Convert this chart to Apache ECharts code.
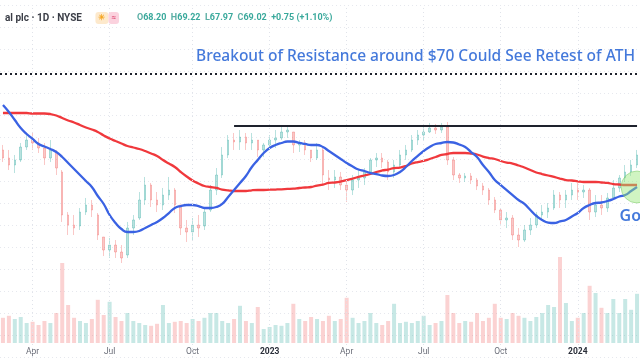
<!DOCTYPE html>
<html><head><meta charset="utf-8">
<script src="https://cdn.jsdelivr.net/npm/echarts@6/dist/echarts.min.js"></script>
<style>html,body{margin:0;padding:0;background:#fff}#c{width:640px;height:360px}</style>
</head><body><div id="c"></div>
<script>
// Weekly buckets starting at this Monday
const firstWeek = '2022-02-21';
// [open, close, low, high] per week
const candles = [
[65.64,64.18,63.45,66.55],[64.18,62.91,62.00,65.64],[62.91,63.82,61.45,64.73],[63.82,66.18,63.45,66.91],[66.18,67.45,65.64,68.36],
[67.45,66.91,65.64,68.73],[66.91,66.00,65.09,67.82],[66.00,64.18,62.91,66.91],[64.18,65.64,63.45,67.45],[65.27,62.36,61.09,65.64],
[61.64,53.82,52.55,62.00],[53.82,52.00,50.18,54.36],[52.00,51.45,50.18,53.82],[51.82,54.36,51.09,55.09],[54.36,55.64,53.82,56.91],
[55.64,54.73,53.45,56.55],[53.82,50.18,49.27,54.18],[49.82,47.45,46.36,49.82],[47.45,48.36,46.00,49.64],[48.36,47.09,46.00,49.27],
[47.09,46.00,45.09,48.36],[46.55,51.45,46.00,52.55],[51.45,52.91,50.18,53.82],[53.27,56.55,52.91,58.00],[56.55,59.27,55.64,60.73],
[59.27,56.55,55.27,59.64],[56.55,55.64,54.36,58.00],[55.64,57.45,54.73,58.73],[57.45,58.36,56.55,60.73],[58.36,55.64,54.18,58.73],
[55.64,51.45,50.18,55.64],[51.45,50.73,48.91,52.91],[50.73,52.00,49.27,53.27],[52.00,51.45,49.82,53.82],[51.82,54.36,51.09,55.27],
[54.73,58.36,54.36,59.27],[58.36,61.09,57.45,62.36],[61.09,64.73,60.55,66.18],[64.73,67.45,64.18,68.36],[67.45,67.09,65.64,68.73],
[67.09,68.00,65.64,69.27],[68.00,66.91,65.64,68.73],[66.91,67.45,65.64,68.73],[67.45,65.64,64.36,67.45],[65.64,66.55,64.36,66.91],
[66.55,67.45,65.64,68.36],[67.45,67.82,66.00,69.27],[67.82,68.91,67.45,69.82],[68.91,69.27,67.82,70.18],[68.91,66.55,65.09,68.91],
[66.55,66.91,65.27,67.45],[66.91,65.64,64.73,67.45],[65.64,64.18,63.45,65.64],[64.18,65.64,63.82,66.91],[65.64,61.09,59.27,66.00],
[60.55,60.18,58.36,62.00],[60.18,60.73,58.73,62.00],[60.73,59.27,58.36,61.64],[59.27,58.36,56.18,60.18],[58.36,60.18,57.45,61.09],
[60.18,60.55,58.73,62.00],[60.55,61.64,59.27,62.36],[61.64,63.82,61.09,64.18],[63.82,64.18,62.55,65.09],[64.18,63.45,62.36,65.09],
[63.45,61.64,60.18,63.82],[61.64,62.91,60.55,63.82],[62.91,64.73,62.36,65.64],[64.73,65.64,63.82,66.55],[65.64,67.45,65.27,68.36],
[67.45,68.36,66.55,69.27],[68.36,68.91,67.45,69.82],[68.91,69.64,68.73,70.55],[69.64,69.27,68.55,70.36],[69.27,69.82,68.73,70.55],
[69.82,63.82,62.91,70.73],[63.82,61.09,60.18,64.36],[61.09,60.55,59.64,61.45],[60.55,60.91,59.82,61.45],[60.91,60.18,59.45,61.45],
[60.18,59.09,58.36,60.55],[59.09,58.36,57.45,59.64],[58.36,56.55,55.64,58.73],[56.55,54.73,54.18,57.09],[54.73,52.91,52.00,55.09],
[52.91,53.27,51.45,54.36],[53.27,50.18,49.27,53.82],[50.18,49.27,48.00,51.45],[49.27,51.09,48.91,52.00],[51.09,52.00,50.18,53.27],
[52.00,53.82,51.45,54.36],[53.82,54.36,52.91,55.64],[54.36,55.09,53.27,56.00],[55.09,57.45,54.73,58.36],[57.45,56.55,55.09,58.00],
[56.55,57.45,55.09,58.36],[57.45,58.36,56.55,59.64],[58.36,58.00,56.55,59.64],[58.00,58.36,56.91,59.27],[58.36,54.36,52.91,58.73],
[54.36,55.64,53.45,57.45],[55.64,55.09,53.82,57.45],[55.09,56.91,54.36,57.82],[56.91,58.73,56.55,60.18],[58.73,60.55,58.00,61.09],
[60.55,61.64,59.82,62.91],[61.64,62.91,60.91,63.82],[62.91,64.73,62.36,65.64]
];
const ma50 = [73.82,72.55,71.09,69.64,68.55,67.64,66.73,66.27,65.82,65.27,
64.36,63.27,62.18,61.09,60.00,58.91,57.27,55.82,53.82,52.36,
51.27,50.73,50.73,50.91,51.45,52.00,52.55,53.27,54.18,55.09,
55.45,55.64,55.64,55.45,55.09,55.09,55.27,55.82,57.09,58.36,
59.64,60.91,62.55,63.82,65.09,66.00,66.55,66.91,67.18,67.18,
66.91,66.73,66.55,66.55,66.18,65.45,64.73,64.00,63.27,62.64,
62.09,61.82,61.45,61.27,61.00,60.91,61.09,61.64,62.55,63.64,
64.55,65.45,66.18,66.73,66.91,67.09,67.00,66.64,66.18,65.27,
64.36,62.91,61.64,60.18,59.27,58.36,57.45,56.55,55.82,54.73,
53.64,52.91,52.45,52.36,52.64,52.91,53.55,54.18,55.09,55.64,
56.00,56.09,56.36,56.73,57.18,57.45,58.18,58.91];
const ma200 = [72.36,72.36,72.36,72.36,72.36,72.27,72.27,72.27,72.18,71.91,
71.45,71.00,70.64,70.18,69.73,69.36,68.91,68.27,67.73,67.27,
66.82,66.36,66.09,65.82,65.45,65.00,64.55,63.82,63.18,62.55,
61.64,60.82,60.09,59.55,59.09,58.91,58.73,58.45,58.31,58.18,
58.18,58.18,58.31,58.36,58.36,58.42,58.45,58.49,58.55,58.60,
58.73,58.82,58.91,59.18,59.36,59.64,59.73,59.91,60.18,60.45,
60.73,61.00,61.27,61.64,61.91,62.09,62.36,62.45,62.73,63.18,
63.45,63.64,64.00,64.36,64.73,64.91,65.09,65.09,65.09,65.00,
64.82,64.45,64.18,64.00,63.64,63.36,63.18,62.82,62.45,62.00,
61.55,61.27,61.00,60.73,60.45,60.18,60.09,59.95,59.82,59.82,
59.82,59.73,59.64,59.45,59.36,59.27,59.27,59.27];
// volume, millions of shares
const volume = [6.3,6.8,6.0,6.5,5.0,5.3,4.5,5.5,5.0,7.5,
20.0,9.5,6.3,5.5,5.0,6.0,10.8,7.0,10.3,6.5,
5.5,7.5,5.5,5.0,4.5,4.3,4.8,9.5,5.0,5.3,
5.5,5.0,6.0,5.5,6.3,7.5,7.5,5.5,5.0,6.0,
9.3,5.5,5.0,9.0,3.5,4.0,4.5,4.3,5.0,9.8,
6.0,5.5,6.5,6.0,5.5,6.8,5.5,6.0,11.3,6.3,
5.0,5.5,7.5,5.0,4.5,5.5,9.8,5.0,5.3,5.0,
5.5,6.8,4.5,5.0,5.5,12.0,7.5,5.0,5.5,5.3,
7.5,5.5,6.3,9.8,6.3,6.0,7.5,6.8,6.3,5.5,
6.5,7.5,9.5,9.0,21.5,10.0,5.5,6.3,7.5,14.3,
12.5,8.8,7.5,11.0,7.5,11.0,8.3,12.3];
const tickLabels = {'2022-03-28':'Apr','2022-06-27':'Jul','2022-10-03':'Oct','2023-01-02':'2023',
  '2023-04-03':'Apr','2023-07-03':'Jul','2023-10-02':'Oct','2024-01-01':'2024'};
const resistanceFrom = '2022-11-21';
const resistanceLevel = 70;
const athLevel = 79.45;
const goldenCrossWeek = '2024-03-11';
const goldenCrossPrice = 58.91;
const headerName = 'al plc · 1D · NYSE';
const headerQuote = {O:'68.20', H:'69.22', L:'67.97', C:'69.02', chg:'+0.75 (+1.10%)'};

const t0 = new Date(firstWeek + 'T00:00:00Z').getTime();
const weeks = candles.map((_, i) => new Date(t0 + i * 7 * 86400000).toISOString().slice(0, 10));

const UP = '#26a69a', DOWN = '#ef5350', BLUE = '#4479db';
const volData = volume.map((v, i) => ({
  value: v,
  itemStyle: {color: candles[i][1] >= candles[i][0] ? 'rgba(38,166,154,0.26)' : 'rgba(239,83,80,0.26)'}
}));

const chart = echarts.init(document.getElementById('c'), null, {renderer: 'canvas'});
chart.setOption({
  animation: false,
  backgroundColor: '#ffffff',
  textStyle: {fontFamily: 'Roboto'},
  title: {
    left: 0, top: 4,
    text: '{n|' + headerName + '}   {s|☀}{w|≈}    {k|O}{v|' + headerQuote.O + '} {k|H}{v|' + headerQuote.H +
      '} {k|L}{v|' + headerQuote.L + '} {k|C}{v|' + headerQuote.C + '} {v|' + headerQuote.chg + '}',
    textStyle: {
      rich: {
        n: {fontSize: 10, color: '#3b3e47', fontFamily: 'Roboto'},
        s: {fontSize: 8, color: '#f5a623', backgroundColor: '#fde9cc', padding: [2, 3], borderRadius: 3},
        w: {fontSize: 8, color: '#e35d82', backgroundColor: '#fbd2de', padding: [2, 3], borderRadius: 3},
        k: {fontSize: 9, color: '#5aaea4', fontFamily: 'Roboto'},
        v: {fontSize: 9, color: '#3aa99c', fontFamily: 'Roboto'}
      }
    }
  },
  grid: [
    {left: 0, right: 0, top: 5, bottom: 3},
    {left: 0, right: 0, top: 243, bottom: 17}
  ],
  xAxis: [
    {type: 'category', data: weeks, gridIndex: 0, axisLine: {show: false}, axisTick: {show: false},
     axisLabel: {show: false}, splitLine: {show: false}},
    {type: 'category', data: weeks, gridIndex: 1, axisLine: {show: false}, axisTick: {show: false},
     splitLine: {show: false},
     axisLabel: {
       show: true, margin: 4, fontSize: 8.5, color: '#6a6d78',
       interval: (i, v) => v in tickLabels,
       formatter: v => {
         const t = tickLabels[v] || '';
         return /^\d{4}$/.test(t) ? '{y|' + t + '}' : t;
       },
       rich: {y: {fontSize: 8.5, fontWeight: 'bold', color: '#2a2e39'}}
     }}
  ],
  yAxis: [
    {gridIndex: 0, min: 28, max: 92, interval: 4, axisLabel: {show: false}, axisLine: {show: false},
     axisTick: {show: false}, splitLine: {show: true, lineStyle: {type: [1, 3], color: '#e6e8ee'}}},
    {gridIndex: 1, min: 0, max: 25, show: false, splitLine: {show: false}}
  ],
  series: [
    {
      type: 'bar', xAxisIndex: 1, yAxisIndex: 1, data: volData, barWidth: 4, silent: true, z: 1
    },
    {
      type: 'candlestick', xAxisIndex: 0, yAxisIndex: 0, data: candles, barWidth: 2, z: 2,
      itemStyle: {color: UP, color0: DOWN, borderColor: UP, borderColor0: DOWN, borderWidth: 1, opacity: 0.32},
      markLine: {
        silent: true, symbol: 'none', animation: false,
        label: {show: false},
        lineStyle: {type: [1, 3], color: '#e0e3ea', width: 1},
        data: Object.keys(tickLabels).map(d => ({xAxis: d}))
      }
    },
    {
      type: 'line', name: 'MA200', data: ma200, smooth: true, showSymbol: false, z: 3,
      lineStyle: {color: '#f0383c', width: 2.3}
    },
    {
      type: 'line', name: 'MA50', data: ma50, smooth: true, showSymbol: false, z: 4,
      lineStyle: {color: '#3a62e3', width: 2.3},
      markLine: {
        silent: true, symbol: 'none', animation: false,
        data: [
          {yAxis: athLevel,
           lineStyle: {type: [2, 3], color: '#1e222d', width: 2},
           label: {show: true, position: 'insideEndTop', distance: [5, 9],
                   formatter: 'Breakout of Resistance around $70 Could See Retest of ATH',
                   color: BLUE, fontSize: 15.5, fontWeight: 500, fontFamily: 'Noto Sans'}},
          [{coord: [resistanceFrom, resistanceLevel], lineStyle: {type: 'solid', color: '#1e222d', width: 2}, label: {show: false}},
           {coord: [weeks[weeks.length - 1], resistanceLevel]}]
        ]
      },
      markPoint: {
        silent: true, animation: false,
        data: [{
          coord: [goldenCrossWeek, goldenCrossPrice], symbol: 'circle', symbolSize: 32,
          itemStyle: {color: 'rgba(150,230,120,0.45)', borderColor: 'rgba(120,200,100,0.5)', borderWidth: 1},
          label: {show: true, formatter: 'Golden Cross', position: [-1, 38], color: BLUE,
                  fontSize: 16, fontWeight: 600, fontFamily: 'Noto Sans'}
        }]
      }
    }
  ]
});
</script></body></html>
